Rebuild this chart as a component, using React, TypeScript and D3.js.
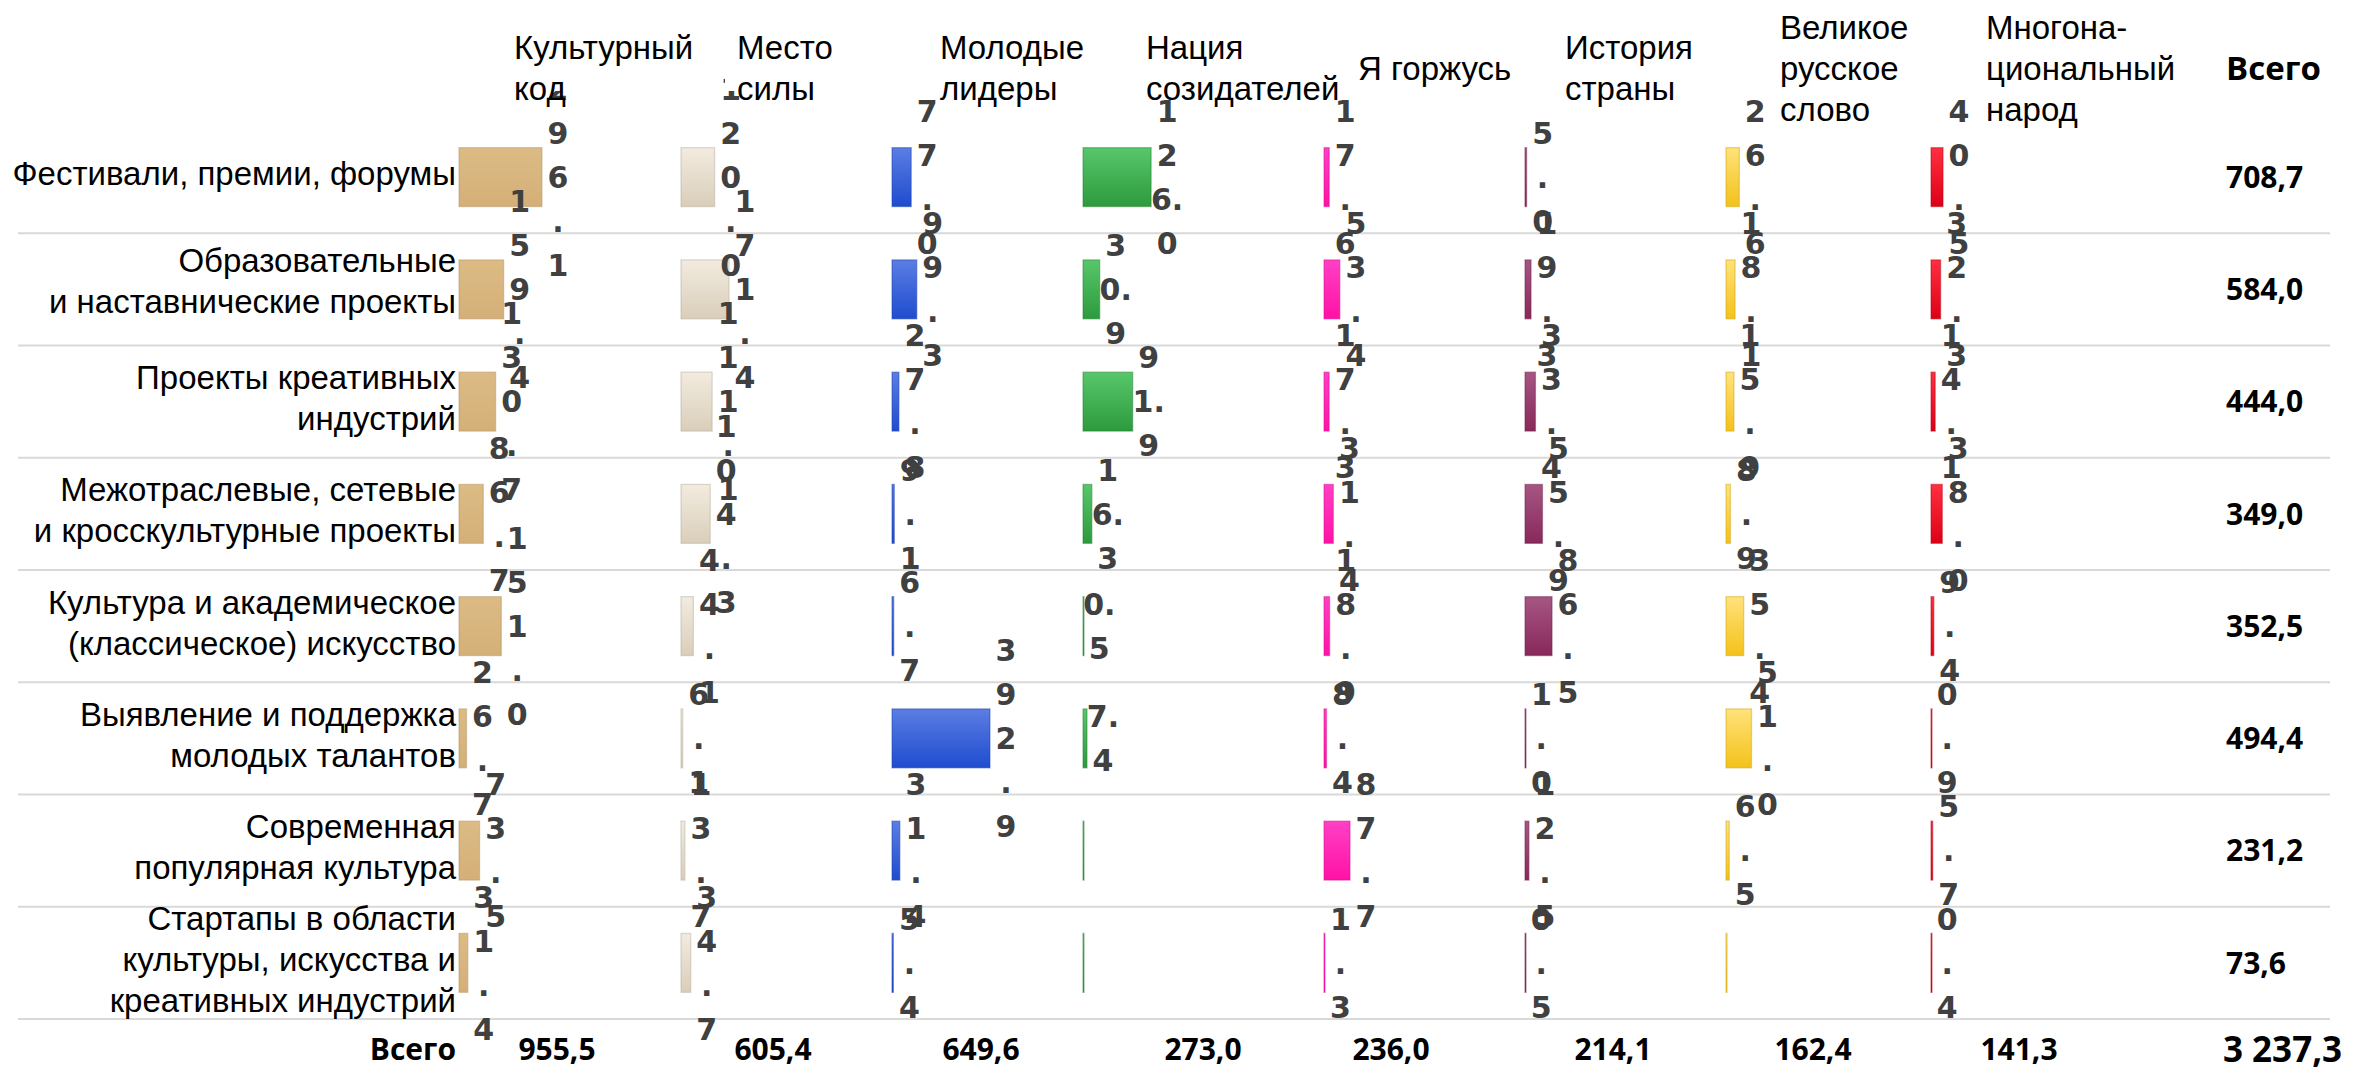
import { useEffect, useRef } from 'react';
import * as d3 from 'd3';

// rows (directions) and their wrapped labels
const rowLabels: string[][] = [
  ['Фестивали, премии, форумы'],
  ['Образовательные', 'и наставнические проекты'],
  ['Проекты креативных', 'индустрий'],
  ['Межотраслевые, сетевые', 'и кросскультурные проекты'],
  ['Культура и академическое', '(классическое) искусство'],
  ['Выявление и поддержка', 'молодых талантов'],
  ['Современная', 'популярная культура'],
  ['Стартапы в области', 'культуры, искусства и', 'креативных индустрий'],
];

// programmes (columns)
const columnLabels: string[][] = [
  ['Культурный', 'код'],
  ['Место', 'силы'],
  ['Молодые', 'лидеры'],
  ['Нация', 'созидателей'],
  ['Я горжусь'],
  ['История', 'страны'],
  ['Великое', 'русское', 'слово'],
  ['Многона-', 'циональный', 'народ'],
];

// values per programme, one entry per row
const culturalCode = [296.1, 159.4, 130.7, 86.7, 151.0, 26.7, 73.5, 31.4];
const placeOfPower = [120.0, 171.4, 111.1, 104.3, 44.1, 6.1, 13.7, 34.7];
const youngLeaders = [77.0, 99.3, 27.8, 9.1, 6.7, 392.9, 31.4, 5.4];
const nationOfCreators = [126.0, 30.9, 91.9, 16.3, 0.5, 7.4, 0, 0];
const iAmProud = [17.6, 53.4, 17.3, 31.4, 18.9, 8.4, 87.7, 1.3];
const countryHistory = [5.0, 19.3, 33.4, 55.9, 86.5, 1.0, 12.5, 0.5];
const greatRussianWord = [26.6, 18.1, 15.9, 8.9, 35.4, 51.0, 6.5, 0];
const multinationalPeople = [40.5, 32.3, 14.1, 38.0, 9.4, 0.9, 5.7, 0.4];

const rowTotals = [708.7, 584.0, 444.0, 349.0, 352.5, 494.4, 231.2, 73.6];
const columnTotals = [955.5, 605.4, 649.6, 273.0, 236.0, 214.1, 162.4, 141.3];
const grandTotal = 3237.3;

// each small chart has its own value axis
const axisMax = [357, 357, 401, 185, 337, 320, 200, 337];

const series = [
  culturalCode,
  placeOfPower,
  youngLeaders,
  nationOfCreators,
  iAmProud,
  countryHistory,
  greatRussianWord,
  multinationalPeople,
];

const colors: [string, string][] = [
  ['#dcbb84', '#d4b078'],
  ['#f2ebdf', '#d9ceba'],
  ['#5b7ee3', '#1f4ccf'],
  ['#58c76b', '#2c9a3d'],
  ['#ff40c4', '#ff12a6'],
  ['#a65683', '#88295a'],
  ['#ffe27a', '#f4c21a'],
  ['#ff3040', '#dd0016'],
];

const W = 2359;
const H = 1074;

// layout
const barLeft = [459, 681, 892, 1083, 1324, 1525, 1726, 1931];
const headerLeft = [514, 737, 940, 1146, 1358, 1565, 1780, 1986];
const totalCenter = [557, 773, 981, 1203, 1391, 1613, 1813, 2019];
const plotWidth = 100;
const labelWrap = [20, 20, 20, 28, 20, 20, 20, 20];

const ru = d3.formatLocale({ decimal: ',', thousands: ' ', grouping: [3], currency: ['', ''] });
const fmtTotal = ru.format(',.1f');

const charWidth = (c: string) => (c === '.' ? 9 : 18);

// mimics a too-narrow label box: breaks the number into lines
const wrapLabel = (text: string, maxWidth: number) => {
  const lines: string[] = [];
  let cur = '';
  let w = 0;
  for (const c of text) {
    const cw = charWidth(c);
    if (cur && w + cw > maxWidth) {
      lines.push(cur);
      cur = '';
      w = 0;
    }
    cur += c;
    w += cw;
  }
  if (cur) lines.push(cur);
  return lines;
};

const ChartMatrix = () => {
  const svgRef = useRef<SVGSVGElement>(null);

  useEffect(() => {
    if (!svgRef.current) return;
    document.body.style.margin = '0';

    const svg = d3.select(svgRef.current);
    svg.selectAll('*').remove();

    const y = d3
      .scaleBand<number>()
      .domain(d3.range(rowLabels.length))
      .range([121, 1019])
      .paddingInner(0.475)
      .paddingOuter(0.2375);
    const step = y.step();
    const rowCenter = (i: number) => (y(i) as number) + y.bandwidth() / 2;

    const defs = svg.append('defs');
    colors.forEach(([top, bottom], j) => {
      const g = defs
        .append('linearGradient')
        .attr('id', `bar-grad-${j}`)
        .attr('x1', '0%')
        .attr('x2', '0%')
        .attr('y1', '0%')
        .attr('y2', '100%');
      g.append('stop').attr('offset', '0%').attr('stop-color', top);
      g.append('stop').attr('offset', '100%').attr('stop-color', bottom);
    });

    // row separators
    svg
      .append('g')
      .selectAll('line')
      .data(d3.range(1, rowLabels.length + 1))
      .enter()
      .append('line')
      .attr('x1', 18)
      .attr('x2', 2330)
      .attr('y1', d => 121 + d * step)
      .attr('y2', d => 121 + d * step)
      .attr('stroke', '#d9d9d9')
      .attr('stroke-width', 2);

    // row labels
    const rowG = svg
      .append('g')
      .attr('font-family', '"Liberation Sans", Arial, sans-serif')
      .attr('font-size', 33)
      .attr('fill', '#000')
      .attr('text-anchor', 'end');
    rowLabels.forEach((lines, i) => {
      const c = rowCenter(i) - (i === 1 ? 9 : 4);
      lines.forEach((line, k) => {
        rowG
          .append('text')
          .attr('x', 456)
          .attr('y', c + (k - (lines.length - 1) / 2) * 41)
          .attr('dy', '0.36em')
          .text(line);
      });
    });

    // bars + labels per programme
    series.forEach((values, j) => {
      const x = d3.scaleLinear().domain([0, axisMax[j]]).range([0, plotWidth]);
      const g = svg.append('g').attr('transform', `translate(${barLeft[j]},0)`);
      const edge = d3.color(colors[j][1])!.darker(0.5).formatHex();

      g.selectAll('rect')
        .data(values)
        .enter()
        .append('rect')
        .attr('x', 0)
        .attr('y', (_, i) => y(i) as number)
        .attr('width', d => Math.max(1, x(d)))
        .attr('height', y.bandwidth())
        .attr('fill', `url(#bar-grad-${j})`)
        .attr('stroke', edge)
        .attr('stroke-opacity', 0.45)
        .attr('stroke-width', 1.3);

      const lg = g
        .append('g')
        .attr('font-family', '"DejaVu Sans", sans-serif')
        .attr('font-weight', 'bold')
        .attr('font-size', 30)
        .attr('fill', '#404040')
        .attr('text-anchor', 'middle');

      values.forEach((v, i) => {
        if (v === 0) return;
        const lines = wrapLabel(v.toFixed(1), labelWrap[j]);
        const cx = x(v) + 16;
        const cy = rowCenter(i);
        lines.forEach((line, k) => {
          lg.append('text')
            .attr('x', cx)
            .attr('y', cy + (k - (lines.length - 1) / 2) * 44)
            .attr('dy', '0.36em')
            .text(line);
        });
      });
    });

    // column headers (boxes with white fill hide label overflow)
    const headG = svg
      .append('g')
      .attr('font-family', '"Liberation Sans", Arial, sans-serif')
      .attr('font-size', 33)
      .attr('fill', '#000');
    columnLabels.forEach((_, j) => {
      headG
        .append('rect')
        .attr('x', headerLeft[j] - 12)
        .attr('y', 0)
        .attr('width', 206)
        .attr('height', 91)
        .attr('fill', '#fff');
    });
    columnLabels.forEach((lines, j) => {
      lines.forEach((line, k) => {
        headG
          .append('text')
          .attr('x', headerLeft[j])
          .attr('y', 68 + (k - (lines.length - 1) / 2) * 41)
          .attr('dy', '0.36em')
          .text(line);
      });
    });

    const boldG = svg
      .append('g')
      .attr('font-family', '"Open Sans", "Noto Sans", sans-serif')
      .attr('font-weight', 'bold')
      .attr('fill', '#000');

    boldG
      .append('text')
      .attr('x', 2226)
      .attr('y', 68)
      .attr('dy', '0.36em')
      .attr('font-size', 33)
      .text('Всего');

    boldG
      .selectAll('text.row-total')
      .data(rowTotals)
      .enter()
      .append('text')
      .attr('class', 'row-total')
      .attr('x', 2226)
      .attr('y', (_, i) => rowCenter(i))
      .attr('dy', '0.36em')
      .attr('font-size', 30)
      .text(d => fmtTotal(d));

    const totalY = 1049;
    boldG
      .append('text')
      .attr('x', 456)
      .attr('y', totalY)
      .attr('dy', '0.36em')
      .attr('text-anchor', 'end')
      .attr('font-size', 30)
      .text('Всего');

    boldG
      .selectAll('text.col-total')
      .data(columnTotals)
      .enter()
      .append('text')
      .attr('class', 'col-total')
      .attr('x', (_, j) => totalCenter[j])
      .attr('y', totalY)
      .attr('dy', '0.36em')
      .attr('text-anchor', 'middle')
      .attr('font-size', 30)
      .text(d => fmtTotal(d));

    boldG
      .append('text')
      .attr('x', 2223)
      .attr('y', totalY)
      .attr('dy', '0.36em')
      .attr('font-size', 35)
      .text(fmtTotal(grandTotal));
  }, []);

  return <svg ref={svgRef} width={W} height={H} style={{ display: 'block', background: '#fff' }} />;
};

export default function App() {
  return <ChartMatrix />;
}
